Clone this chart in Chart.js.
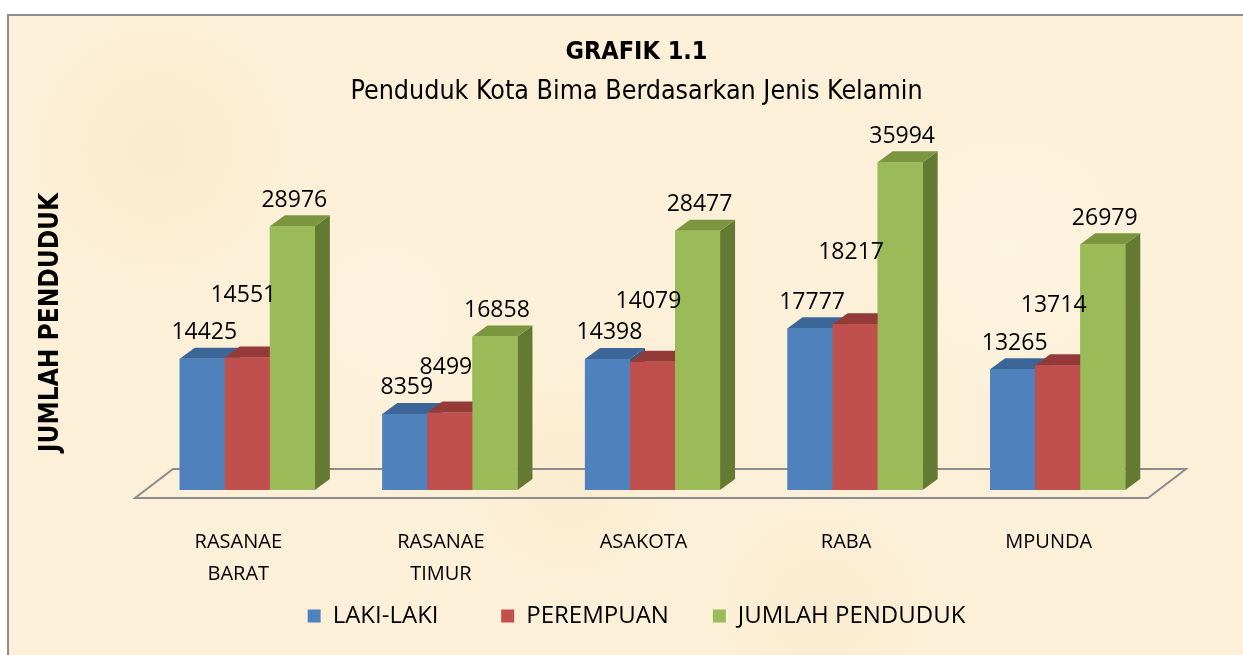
<!DOCTYPE html>
<html lang="id">
<head>
<meta charset="UTF-8">
<title>Grafik 1.1 - Penduduk Kota Bima</title>
<script src="https://cdn.jsdelivr.net/npm/chart.js"></script>
<style>
  html, body { margin: 0; padding: 0; background: #fff; overflow: hidden; }
  /* bingkai dengan latar kertas */
  #bingkai {
    position: absolute; left: 7px; top: 14px; width: 1250px; height: 660px;
    border: 2px solid #8c8c8c;
    background-color: #fcf0d8;
    background-image:
      radial-gradient(circle at 12% 20%, rgba(246, 226, 186, 0.35), transparent 12%),
      radial-gradient(circle at 45% 70%, rgba(246, 226, 186, 0.3), transparent 14%),
      radial-gradient(circle at 80% 35%, rgba(255, 248, 234, 0.5), transparent 15%),
      radial-gradient(circle at 65% 90%, rgba(246, 226, 186, 0.3), transparent 12%),
      radial-gradient(circle at 30% 45%, rgba(255, 249, 238, 0.4), transparent 12%);
  }
  #wadah { position: absolute; left: 0; top: 0; width: 1243px; height: 655px; }
</style>
</head>
<body>
<div id="bingkai"></div>
<div id="wadah"><canvas id="grafik"></canvas></div>

<script>
    // data per kecamatan
    const kecamatan = [['RASANAE', 'BARAT'], ['RASANAE', 'TIMUR'], 'ASAKOTA', 'RABA', 'MPUNDA'];
    const lakiLaki = [14425, 8359, 14398, 17777, 13265];
    const perempuan = [14551, 8499, 14079, 18217, 13714];
    const jumlahPenduduk = [28976, 16858, 28477, 35994, 26979];
    const namaSeri = ['LAKI-LAKI', 'PEREMPUAN', 'JUMLAH PENDUDUK'];

    // warna muka depan, atas, samping
    const warna = [
        { depan: '#4f81bd', atas: '#3c6698', samping: '#34597f' },
        { depan: '#c0504d', atas: '#943b39', samping: '#7f302e' },
        { depan: '#9bbb59', atas: '#7b963f', samping: '#647a33' }
    ];
    const DX = 15, DY = 11;
    const narrow = "'Liberation Sans Narrow', 'DejaVu Sans Condensed', sans-serif";

    Chart.defaults.font.family = "'Open Sans', sans-serif";
    Chart.defaults.color = '#000';

    function poly(ctx, pts) {
        ctx.beginPath();
        ctx.moveTo(pts[0][0], pts[0][1]);
        for (let k = 1; k < pts.length; k++) ctx.lineTo(pts[k][0], pts[k][1]);
        ctx.closePath();
        ctx.fill();
    }

    // lantai + balok 3D + label nilai
    const efek3D = {
        id: 'efek3D',
        beforeDatasetsDraw(chart) {
            const { ctx, chartArea: a } = chart;
            ctx.save();
            ctx.strokeStyle = '#8c8c8c';
            ctx.lineWidth = 2;
            ctx.beginPath();
            ctx.moveTo(a.left - 11, a.bottom + 8);
            ctx.lineTo(a.right - 11, a.bottom + 8);
            ctx.lineTo(a.right + 27, a.bottom - 21);
            ctx.lineTo(a.left + 27, a.bottom - 21);
            ctx.closePath();
            ctx.stroke();
            ctx.restore();
        },
        afterDatasetsDraw(chart) {
            const ctx = chart.ctx;
            const n = chart.data.labels.length;
            ctx.save();
            for (let i = 0; i < n; i++) {
                chart.data.datasets.forEach((ds, d) => {
                    const bar = chart.getDatasetMeta(d).data[i];
                    const { x, y, base, width } = bar.getProps(['x', 'y', 'base', 'width'], true);
                    const l = x - width / 2, r = x + width / 2;
                    ctx.fillStyle = warna[d].samping;
                    poly(ctx, [[r, y], [r + DX, y - DY], [r + DX, base - DY], [r, base]]);
                    ctx.fillStyle = warna[d].atas;
                    poly(ctx, [[l, y], [r, y], [r + DX, y - DY], [l + DX, y - DY]]);
                    ctx.fillStyle = warna[d].depan;
                    ctx.fillRect(l, y, width, base - y);
                });
            }
            // label nilai
            ctx.font = "23px 'Open Sans', sans-serif";
            ctx.fillStyle = '#000';
            ctx.textAlign = 'center';
            ctx.textBaseline = 'middle';
            chart.data.datasets.forEach((ds, d) => {
                chart.getDatasetMeta(d).data.forEach((bar, i) => {
                    const { x, y, base } = bar.getProps(['x', 'y', 'base'], true);
                    let lx = x + 2, ly = y - 26;
                    if (d === 1) { lx = x - 4; ly = y - 22 - 0.3 * (base - y); }
                    ctx.fillText(ds.data[i], lx, ly);
                });
            });
            ctx.restore();
        }
    };

    const seri = [lakiLaki, perempuan, jumlahPenduduk];
    const jarakLegenda = [7, 4, 0]; // spasi tambahan sesudah teks legenda

    const ctx = document.getElementById('grafik').getContext('2d');
    const chart = new Chart(ctx, {
        type: 'bar',
        data: {
            labels: kecamatan,
            datasets: seri.map((nilai, d) => ({
                label: namaSeri[d],
                data: nilai,
                backgroundColor: warna[d].depan,
                borderWidth: 0,
                categoryPercentage: 0.667,
                barPercentage: 1.0
            }))
        },
        options: {
            responsive: true,
            maintainAspectRatio: false,
            animation: false,
            layout: { padding: { left: 30, top: 14, right: 0, bottom: 17 } },
            plugins: {
                title: {
                    display: true,
                    text: 'GRAFIK 1.1',
                    color: '#000',
                    font: { family: narrow, size: 25, weight: 'bold' },
                    padding: { top: 23, bottom: 0 }
                },
                subtitle: {
                    display: true,
                    text: 'Penduduk Kota Bima Berdasarkan Jenis Kelamin',
                    color: '#000',
                    font: { family: narrow, size: 26.6, weight: 'normal' },
                    padding: { top: 9, bottom: 47 }
                },
                legend: {
                    position: 'bottom',
                    labels: {
                        boxWidth: 13,
                        boxHeight: 13,
                        padding: 19,
                        color: '#000',
                        font: { size: 24 },
                        generateLabels(chart) {
                            const items = Chart.defaults.plugins.legend.labels.generateLabels(chart);
                            items.forEach((it, k) => { it.text = it.text + '\u00a0'.repeat(jarakLegenda[k]); });
                            return items;
                        }
                    }
                },
                tooltip: { enabled: false }
            },
            scales: {
                x: {
                    grid: { display: false, drawTicks: false },
                    border: { display: false },
                    ticks: {
                        color: '#000',
                        font: { size: 20, lineHeight: 1.6 },
                        padding: 36,
                        labelOffset: -9,
                        maxRotation: 0,
                        autoSkip: false
                    },
                    afterFit(scale) { scale.height = 95; }
                },
                y: {
                    min: 0,
                    max: 36800,
                    grid: { display: false },
                    border: { display: false },
                    ticks: { display: false },
                    title: {
                        display: true,
                        text: 'JUMLAH PENDUDUK',
                        color: '#000',
                        font: { family: narrow, size: 26, weight: 'bold' },
                        padding: { top: 6, bottom: 0 }
                    },
                    afterFit(scale) { scale.width = 116; }
                },
                kanan: {
                    position: 'right',
                    grid: { display: false },
                    border: { display: false },
                    ticks: { display: false },
                    afterFit(scale) { scale.width = 84; }
                }
            }
        },
        plugins: [efek3D]
    });
</script>
</body>
</html>
